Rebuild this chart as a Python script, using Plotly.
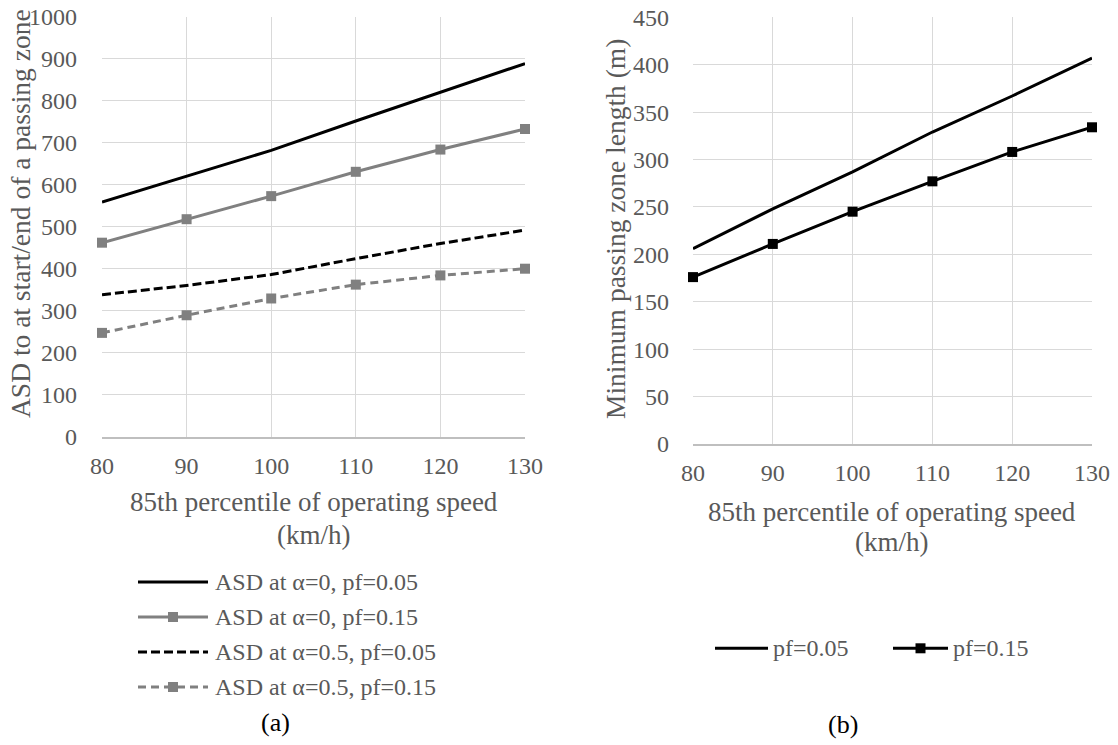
import plotly.graph_objects as go

# ---------------- data ----------------
speed = [80, 90, 100, 110, 120, 130]

asd_a0_pf005 = [559, 621, 682, 752, 820, 889]
asd_a0_pf015 = [462, 518, 573, 631, 684, 733]
asd_a05_pf005 = [338, 360, 386, 424, 460, 492]
asd_a05_pf015 = [247, 289, 329, 362, 384, 400]

pzl_pf005 = [206, 248, 287, 329, 367, 407]
pzl_pf015 = [176, 211, 245, 277, 308, 334]

left_names = ["ASD at α=0, pf=0.05", "ASD at α=0, pf=0.15",
              "ASD at α=0.5, pf=0.05", "ASD at α=0.5, pf=0.15"]
right_names = ["pf=0.05", "pf=0.15"]

x_ticks = [80, 90, 100, 110, 120, 130]
left_y_ticks = list(range(0, 1001, 100))
right_y_ticks = list(range(0, 451, 50))

# ---------------- layout helpers ----------------
W, H = 1118, 745
FONT = '"Liberation Serif", "Times New Roman", serif'
GRAY_TXT = "#595959"
BLACK = "#000000"
GRAY = "#808080"


def fx(px):
    return px / W


def fy(py):
    return 1 - py / H


fig = go.Figure()

left_series = [asd_a0_pf005, asd_a0_pf015, asd_a05_pf005, asd_a05_pf015]
left_styles = [
    dict(color=BLACK, dash="solid", marker=False),
    dict(color=GRAY, dash="solid", marker=True),
    dict(color=BLACK, dash="9px,4px", marker=False),
    dict(color=GRAY, dash="8px,5px", marker=True),
]
for name, ys, st in zip(left_names, left_series, left_styles):
    fig.add_trace(go.Scatter(
        x=speed, y=ys, name=name, xaxis="x", yaxis="y",
        mode="lines+markers" if st["marker"] else "lines",
        line=dict(color=st["color"], width=3, dash=st["dash"]),
        marker=dict(symbol="square", size=10, color=st["color"]),
        cliponaxis=False, showlegend=False,
    ))

right_series = [pzl_pf005, pzl_pf015]
right_styles = [dict(marker=False), dict(marker=True)]
for name, ys, st in zip(right_names, right_series, right_styles):
    fig.add_trace(go.Scatter(
        x=speed, y=ys, name=name, xaxis="x2", yaxis="y2",
        mode="lines+markers" if st["marker"] else "lines",
        line=dict(color=BLACK, width=3),
        marker=dict(symbol="square", size=10, color=BLACK),
        cliponaxis=False, showlegend=False,
    ))

axis_common = dict(
    showgrid=True, gridcolor="#d9d9d9", gridwidth=1.3,
    zeroline=False, ticks="", automargin=False, ticklabeloverflow="allow",
    tickfont=dict(family=FONT, size=24, color=GRAY_TXT),
)

fig.update_layout(
    width=W, height=H,
    margin=dict(l=0, r=0, t=0, b=0, autoexpand=False),
    paper_bgcolor="white", plot_bgcolor="white",
    showlegend=False,
    xaxis=dict(domain=[fx(102), fx(525)], range=[80, 130], tickvals=x_ticks,
               anchor="y", showline=True, linecolor="#bfbfbf", linewidth=1.5,
               ticklabelstandoff=7, **axis_common),
    yaxis=dict(domain=[fy(436.5), fy(17)], range=[0, 1000], tickvals=left_y_ticks,
               anchor="x", showline=False, ticklabelstandoff=24, **axis_common),
    xaxis2=dict(domain=[fx(693), fx(1092)], range=[80, 130], tickvals=x_ticks,
                anchor="y2", showline=True, linecolor="#bfbfbf", linewidth=1.5,
                ticklabelstandoff=6, **axis_common),
    yaxis2=dict(domain=[fy(444), fy(17.3)], range=[0, 450], tickvals=right_y_ticks,
                anchor="x2", showline=False, ticklabelstandoff=23, **axis_common),
)

ytitle_font = dict(family=FONT, size=27.5, color=GRAY_TXT)
xtitle_font = dict(family=FONT, size=27, color=GRAY_TXT)
ann = []
# y titles
ann.append(dict(text="ASD to at start/end of a passing zone", x=fx(21), y=fy(214),
                xref="paper", yref="paper", showarrow=False, textangle=-90,
                font=ytitle_font, xanchor="center", yanchor="middle"))
ann.append(dict(text="Minimum passing zone length (m)", x=fx(615), y=fy(229),
                xref="paper", yref="paper", showarrow=False, textangle=-90,
                font=ytitle_font, xanchor="center", yanchor="middle"))
# x titles
for cx, y1, y2 in [(314, 502, 535), (892, 511.7, 541.7)]:
    ann.append(dict(text="85th percentile of operating speed", x=fx(cx), y=fy(y1),
                    xref="paper", yref="paper", showarrow=False, font=xtitle_font,
                    xanchor="center", yanchor="middle"))
    ann.append(dict(text="(km/h)", x=fx(cx), y=fy(y2),
                    xref="paper", yref="paper", showarrow=False, font=xtitle_font,
                    xanchor="center", yanchor="middle"))
# panel labels
for txt, cx, cy in [("(a)", 275, 722), ("(b)", 843, 724)]:
    ann.append(dict(text=txt, x=fx(cx), y=fy(cy), xref="paper", yref="paper",
                    showarrow=False, font=dict(family=FONT, size=26, color=BLACK),
                    xanchor="center", yanchor="middle"))

# custom legends (samples as shapes, labels as text)
shapes = []
leg_font = dict(family=FONT, size=24, color=GRAY_TXT)
left_rows = [582, 617, 652, 687]
for name, st, ry in zip(left_names, left_styles, left_rows):
    shapes.append(dict(type="line", xref="paper", yref="paper",
                       x0=fx(138), x1=fx(208), y0=fy(ry), y1=fy(ry),
                       line=dict(color=st["color"], width=3, dash=st["dash"])))
    if st["marker"]:
        shapes.append(dict(type="rect", xref="paper", yref="paper",
                           x0=fx(168), x1=fx(178), y0=fy(ry - 5), y1=fy(ry + 5),
                           fillcolor=st["color"], line=dict(width=0)))
    ann.append(dict(text=name, x=fx(213), y=fy(ry), xref="paper", yref="paper",
                    showarrow=False, font=leg_font, xanchor="left", yanchor="middle"))

right_items = [(715, 768, 771, False), (893, 948, 951, True)]
for name, (lx0, lx1, tx, mk) in zip(right_names, right_items):
    ry = 648.3
    shapes.append(dict(type="line", xref="paper", yref="paper",
                       x0=fx(lx0), x1=fx(lx1), y0=fy(ry), y1=fy(ry),
                       line=dict(color=BLACK, width=3)))
    if mk:
        cx = (lx0 + lx1) / 2
        shapes.append(dict(type="rect", xref="paper", yref="paper",
                           x0=fx(cx - 5), x1=fx(cx + 5), y0=fy(ry - 5), y1=fy(ry + 5),
                           fillcolor=BLACK, line=dict(width=0)))
    ann.append(dict(text=name, x=fx(tx), y=fy(ry), xref="paper", yref="paper",
                    showarrow=False, font=leg_font, xanchor="left", yanchor="middle"))

fig.update_layout(annotations=ann, shapes=shapes)

# remove the default page margin so the figure fills the 1118x745 window
fig.write_html("out.html",
               config={"displayModeBar": False},
               post_script="document.body.style.margin='0';document.body.style.overflow='hidden';")
